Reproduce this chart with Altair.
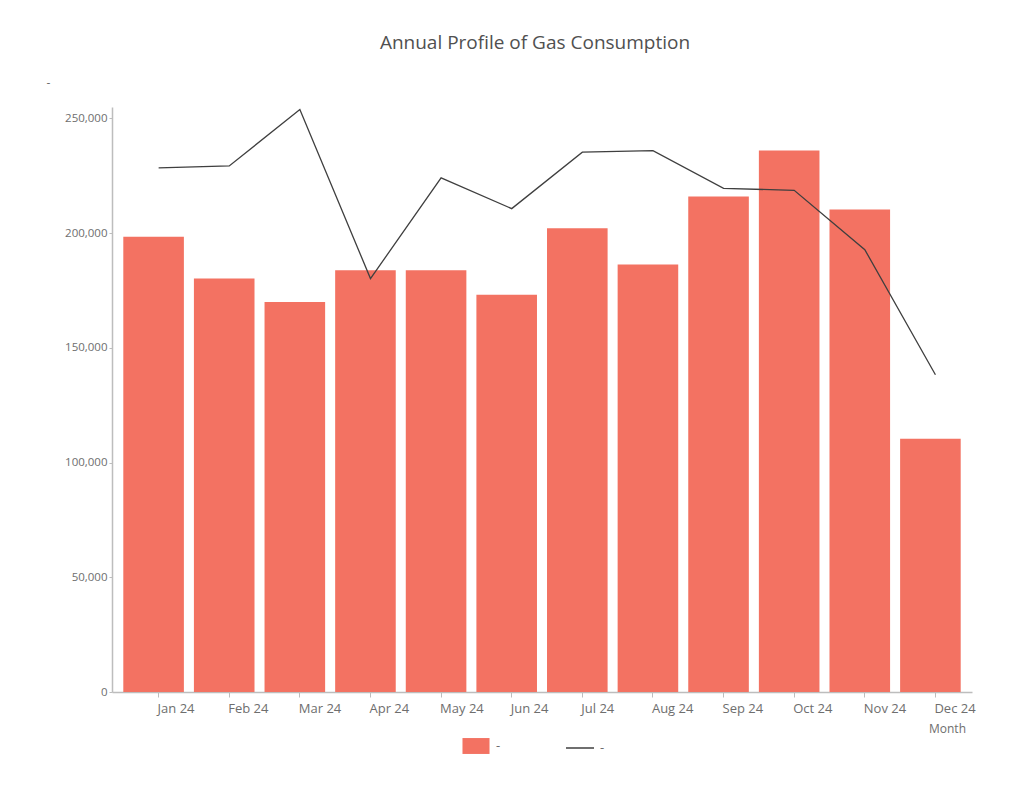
import altair as alt
import pandas as pd

months = ["Jan 24", "Feb 24", "Mar 24", "Apr 24", "May 24", "Jun 24",
          "Jul 24", "Aug 24", "Sep 24", "Oct 24", "Nov 24", "Dec 24"]
bar_values = [198400, 180200, 170000, 183800, 183800, 173200,
              202100, 186300, 216000, 236000, 210300, 110400]
line_values = [228500, 229300, 253900, 180200, 224100, 210700,
               235300, 236000, 219500, 218700, 192800, 138300]

df = pd.DataFrame({"month": months, "bars": bar_values, "line": line_values})

FONT = "Open Sans"
TXT = "#6E6E6E"
BAR = "#F37262"
LINE = "#3F3F3F"

xscale = alt.Scale(paddingInner=0.142, paddingOuter=0.16)
yscale = alt.Scale(domain=[0, 255000], nice=False)

xaxis = alt.Axis(title="Month", labelAlign="left", labelBaseline="top", labelAngle=0,
                 labelPadding=5, labelOffset=4, tickSize=5, tickColor="#BDBDBD", domainColor="#BDBDBD",
                 domainWidth=1.5, labelFontSize=13, labelColor=TXT, labelFont=FONT,
                 titleFont=FONT, titleFontSize=12, titleColor=TXT, titleFontWeight="normal",
                 titleX=835, titleY=36, titleAlign="center", titleBaseline="middle",
                 bandPosition=0.583, grid=False)
yaxis = alt.Axis(title="-", titleAngle=0, titleX=-66, titleY=-25, titleAlign="left",
                 titleBaseline="middle", titleFont=FONT, titleFontSize=12, titleColor=TXT,
                 titleFontWeight="normal", format=",.0f",
                 values=[0, 50000, 100000, 150000, 200000, 250000],
                 tickSize=3, tickColor="#BDBDBD", domainColor="#BDBDBD", domainWidth=1.5,
                 labelFontSize=11.5, labelColor=TXT, labelFont=FONT, labelPadding=2, grid=False)

base = alt.Chart(df)

bars = base.transform_calculate(sb="'Bars'").mark_bar().encode(
    x=alt.X("month:N", sort=months, scale=xscale, axis=xaxis, title="Month"),
    y=alt.Y("bars:Q", scale=yscale, axis=yaxis, title="-"),
    fill=alt.Fill("sb:N", scale=alt.Scale(range=[BAR]),
                  legend=alt.Legend(title=None, orient="none", legendX=356, legendY=631,
                                    symbolType="M-1.7,-1H1.7V1H-1.7Z", symbolSize=253,
                                    symbolStrokeWidth=0, symbolOpacity=1,
                                    labelExpr="'-'", labelOffset=12, labelFontSize=13,
                                    labelColor=TXT, labelFont=FONT)),
)

line = base.transform_calculate(sl="'Line'").mark_line(strokeWidth=1.3).encode(
    x=alt.X("month:N", sort=months, scale=xscale, bandPosition=0.583, title="Month"),
    y=alt.Y("line:Q", scale=yscale, title="-"),
    stroke=alt.Stroke("sl:N", scale=alt.Scale(range=[LINE]),
                      legend=alt.Legend(title=None, orient="none", legendX=453, legendY=626,
                                        symbolType="stroke", symbolSize=784,
                                        symbolStrokeWidth=1.5, labelExpr="'-'",
                                        labelOffset=5, labelFontSize=13,
                                        labelColor=TXT, labelFont=FONT)),
)

chart = alt.layer(bars, line).properties(
    width=860, height=585,
    background="white",
    autosize=alt.AutoSizeParams(type="none"),
    padding={"left": 112, "top": 107, "right": 61, "bottom": 100},
    title=alt.TitleParams("Annual Profile of Gas Consumption", font=FONT, fontSize=19,
                          fontWeight="normal", color="#505050", anchor="middle", dx=-7, dy=-19),
).configure_view(strokeWidth=0)

chart.save("out.html", embed_options={"renderer": "svg", "actions": False})
